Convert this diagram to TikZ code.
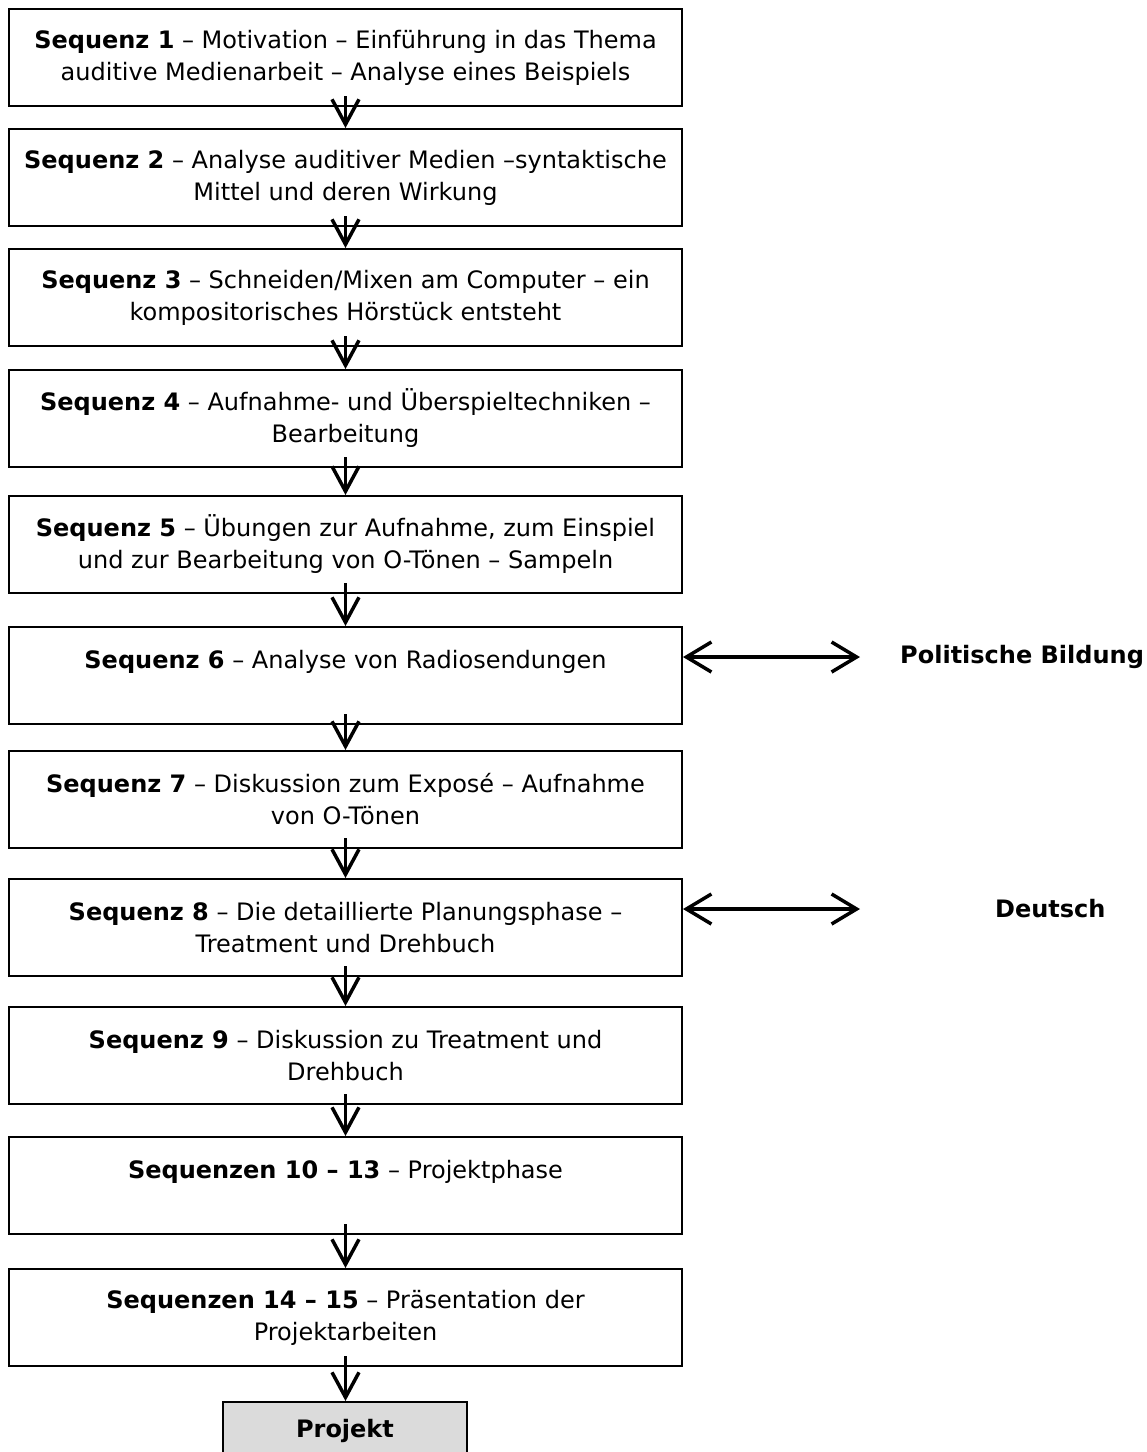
\documentclass[tikz,border=0pt]{standalone}
\usepackage{fontspec}
\setmainfont{DejaVu Sans}
\usetikzlibrary{arrows.meta,calc}
\begin{document}
\begin{tikzpicture}[x=1pt,y=-1pt,
  seqbox/.style={draw, line width=2pt, minimum width=673pt, minimum height=97pt,
    anchor=north west, align=center, inner sep=0pt,
    font=\fontsize{24}{32}\selectfont},
  projbox/.style={draw, line width=2pt, fill=black!14, minimum width=244pt,
    minimum height=58pt, anchor=north west, inner sep=0pt,
    font=\fontsize{24}{32}\selectfont\bfseries},
  downarrow/.style={line width=3.5pt, -{Straight Barb[length=25pt,width=27pt]}},
  sidearrow/.style={line width=3.5pt, {Straight Barb[length=25pt,width=30pt]}-{Straight Barb[length=25pt,width=30pt]}},
  sidelabel/.style={anchor=west, inner sep=0pt, font=\fontsize{24}{32}\selectfont\bfseries}
]
\useasboundingbox (0,0) rectangle (1147,1452);
\fill[white] (0,0) rectangle (1147,1452);

\node[seqbox] (s1) at (8,8) {\textbf{Sequenz 1} – Motivation – Einführung in das Thema\\auditive Medienarbeit – Analyse eines Beispiels};
\node[seqbox] (s2) at (8,128) {\textbf{Sequenz 2} – Analyse auditiver Medien –syntaktische\\Mittel und deren Wirkung};
\node[seqbox] (s3) at (8,248) {\textbf{Sequenz 3} – Schneiden/Mixen am Computer – ein\\kompositorisches Hörstück entsteht};
\node[seqbox] (s4) at (8,369) {\textbf{Sequenz 4} – Aufnahme- und Überspieltechniken –\\Bearbeitung};
\node[seqbox] (s5) at (8,495) {\textbf{Sequenz 5} – Übungen zur Aufnahme, zum Einspiel\\und zur Bearbeitung von O-Tönen – Sampeln};
\node[seqbox] (s6) at (8,626) {\textbf{Sequenz 6} – Analyse von Radiosendungen\\\mbox{}};
\node[seqbox] (s7) at (8,750) {\textbf{Sequenz 7} – Diskussion zum Exposé – Aufnahme\\von O-Tönen};
\node[seqbox] (s8) at (8,878) {\textbf{Sequenz 8} – Die detaillierte Planungsphase –\\Treatment und Drehbuch};
\node[seqbox] (s9) at (8,1006) {\textbf{Sequenz 9} – Diskussion zu Treatment und\\Drehbuch};
\node[seqbox] (s10) at (8,1136) {\textbf{Sequenzen 10 – 13} – Projektphase\\\mbox{}};
\node[seqbox] (s11) at (8,1268) {\textbf{Sequenzen 14 – 15} – Präsentation der\\Projektarbeiten};
\node[projbox] (proj) at (222,1401) {Projekt};

\foreach \a/\b in {s1/s2,s2/s3,s3/s4,s4/s5,s5/s6,s6/s7,s7/s8,s8/s9,s9/s10,s10/s11}
  \draw[downarrow] ($(\a.south)+(0,-11)$) -- (\b.north);
\draw[downarrow] ($(s11.south)+(0,-11)$) -- (s11.south |- proj.north);

\node[sidelabel] (pol) at (900,657) {Politische Bildung};
\node[sidelabel] (deu) at (995,909) {Deutsch};
\coordinate (polend) at (860,657);
\coordinate (deuend) at (860,909);
\draw[sidearrow] ($(s6.north east)+(0,31)$) -- (polend);
\draw[sidearrow] ($(s8.north east)+(0,31)$) -- (deuend);
\end{tikzpicture}
\end{document}
